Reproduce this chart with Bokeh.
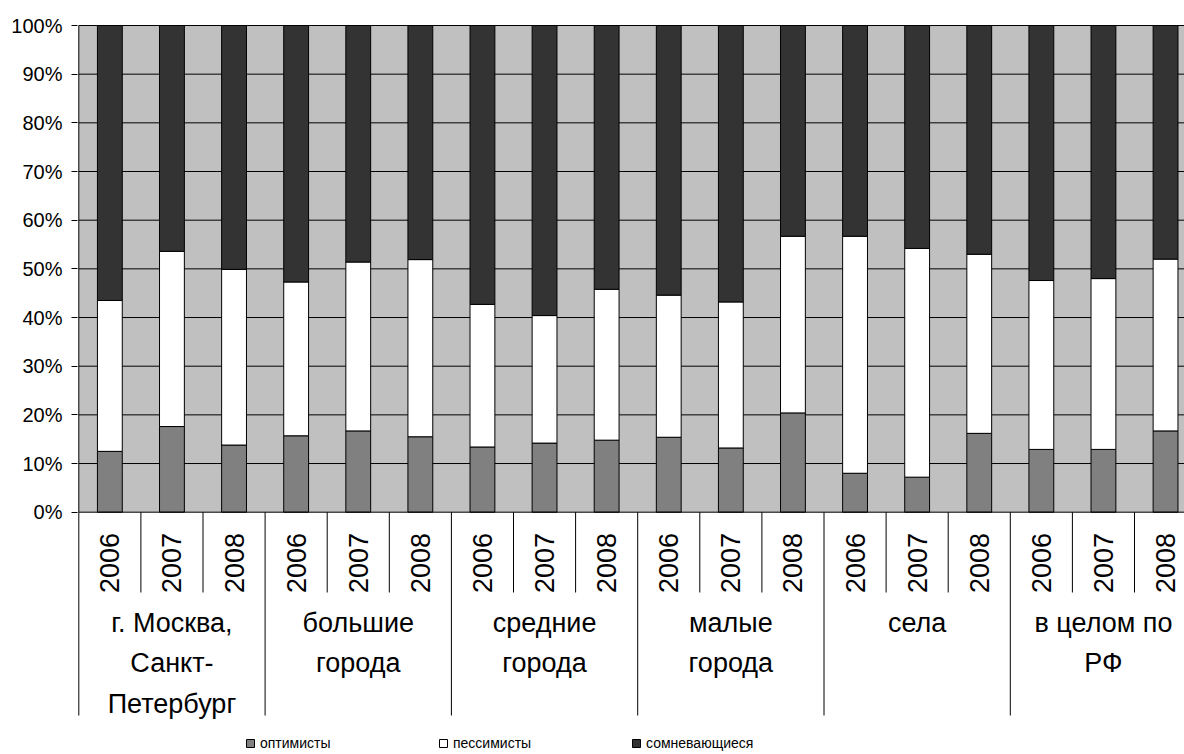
import math

from bokeh.core.properties import value
from bokeh.embed import file_html
from bokeh.models import FixedTicker, Legend, LegendItem, PrintfTickFormatter, Range1d
from bokeh.plotting import figure
from bokeh.resources import INLINE

# ---- data -------------------------------------------------------------
groups = [
    "г. Москва,\nСанкт-\nПетербург",
    "большие\nгорода",
    "средние\nгорода",
    "малые\nгорода",
    "села",
    "в целом по\nРФ",
]
years = ["2006", "2007", "2008"]

# shares of respondents, % (one value per group/year bar)
optimists = [12.5, 17.6, 13.8, 15.7, 16.7, 15.5, 13.4, 14.2, 14.8,
             15.4, 13.2, 20.4, 8.0, 7.2, 16.2, 12.9, 12.9, 16.7]
pessimists = [31.0, 36.0, 36.1, 31.6, 34.7, 36.4, 29.3, 26.2, 31.0,
              29.2, 30.0, 36.3, 48.7, 47.0, 36.8, 34.7, 35.1, 35.3]
doubters = [56.5, 46.4, 50.1, 52.7, 48.6, 48.1, 57.3, 59.6, 54.2,
            55.4, 56.8, 43.3, 43.3, 45.8, 47.0, 52.4, 52.0, 48.0]

series_names = ["оптимисты", "пессимисты", "сомневающиеся"]
series_colors = ["#808080", "#FFFFFF", "#333333"]
y_ticks = [0, 10, 20, 30, 40, 50, 60, 70, 80, 90, 100]

# ---- layout -----------------------------------------------------------
W, H = 1184, 754
LEFT, TOP = 77, 24
CAT_PX = 62.1          # pixel width of one year slot
PX_PER_PCT = 4.867     # pixel height of 1 %
ZERO_PX = 511.7        # screen row of the 0 % line
FONT = value("Liberation Sans")

frame_w = W - LEFT
frame_h = H - TOP
x_start = -(78.3 - LEFT) / CAT_PX
x_range = Range1d(x_start, x_start + frame_w / CAT_PX)
y_end = (ZERO_PX - TOP) / PX_PER_PCT
y_range = Range1d(y_end - frame_h / PX_PER_PCT, y_end)


def y_at(py):
    """data y for a screen row"""
    return (ZERO_PX - py) / PX_PER_PCT


n = len(optimists)
xs = [i + 0.5 for i in range(n)]

p = figure(
    width=W, height=H,
    frame_width=frame_w, frame_height=frame_h,
    x_range=x_range, y_range=y_range,
    x_axis_type=None,
    min_border_left=LEFT, min_border_top=TOP,
    min_border_right=0, min_border_bottom=0,
    output_backend="svg", toolbar_location=None,
    background_fill_color="white", border_fill_color="white",
)
p.outline_line_color = None
p.grid.visible = False

# y axis: percentages with short outer ticks
yax = p.yaxis[0]
yax.ticker = FixedTicker(ticks=y_ticks)
yax.formatter = PrintfTickFormatter(format="%d%%")
yax.axis_line_color = None
yax.major_tick_line_color = "black"
yax.major_tick_out = 6
yax.major_tick_in = 0
yax.minor_tick_line_color = None
yax.major_label_standoff = 9
yax.major_label_text_font = "Liberation Sans"
yax.major_label_text_font_size = "20px"
yax.major_label_text_color = "black"

# plot area background and gridlines
p.quad(left=[0], right=[n], bottom=[0], top=[100], fill_color="#C0C0C0", line_color=None)
grid_y = [t for t in y_ticks if t > 0]
p.segment(x0=[0] * len(grid_y), x1=[n] * len(grid_y), y0=grid_y, y1=grid_y,
          line_color="black", line_width=1)

# stacked bars
bottoms = [0.0] * n
renderers = []
for vals, color in zip([optimists, pessimists, doubters], series_colors):
    tops = [b + v for b, v in zip(bottoms, vals)]
    r = p.vbar(x=xs, width=0.40, bottom=bottoms, top=tops,
               fill_color=color, line_color="black", line_width=1)
    renderers.append(r)
    bottoms = tops

# category axis line and separators
p.segment(x0=[0], x1=[n], y0=[0], y1=[0], line_color="black", line_width=1)
sep_x = list(range(0, n + 1))
sep_y1 = [y_at(715) if k % 3 == 0 else y_at(592) for k in sep_x]
p.segment(x0=sep_x, x1=sep_x, y0=[0] * len(sep_x), y1=sep_y1,
          line_color="black", line_width=1)
p.segment(x0=[0], x1=[0], y0=[0], y1=[100], line_color="black", line_width=1)

# year labels (rotated) and group labels
year_labels = [years[i % 3] for i in range(n)]
p.text(x=xs, y=[y_at(562.5)] * n, text=year_labels, angle=math.pi / 2,
       text_font=FONT, text_font_size="27px", text_color="black",
       text_align="center", text_baseline="middle")

gx = [3 * g + 1.5 for g in range(len(groups))]
p.text(x=gx, y=[y_at(607)] * len(groups), text=groups,
       text_font=FONT, text_font_size="27px", text_color="black",
       text_align="center", text_baseline="top", text_line_height=1.36)

# legend along the bottom
legend = Legend(
    items=[LegendItem(label=name, renderers=[r]) for name, r in zip(series_names, renderers)],
    orientation="horizontal",
    location=(168, 3),
    padding=0, margin=0, spacing=0,
    glyph_width=10, glyph_height=10,
    label_standoff=5, label_width=178,
    label_text_font="Liberation Sans", label_text_font_size="14px",
    label_text_color="black",
    border_line_color=None, background_fill_alpha=0,
)
p.add_layout(legend)

open("out.html", "w").write(file_html(p, INLINE))
